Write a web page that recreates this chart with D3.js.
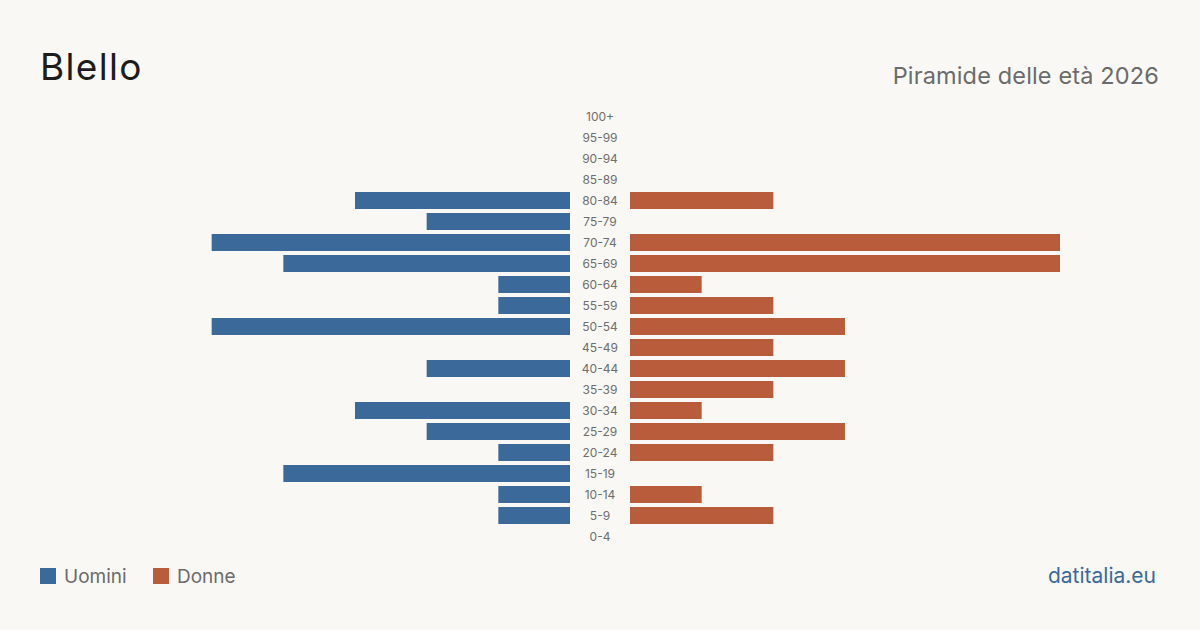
<!DOCTYPE html>
<html><head><meta charset="utf-8">
<script src="https://cdn.jsdelivr.net/npm/d3@7"></script>
<style>
body{margin:0;background:#f9f8f4;}
svg{display:block;font-family:Inter,"Noto Sans",sans-serif;}
</style></head>
<body><svg id="chart" width="1200" height="630"></svg>
<script>
/* ----- data ------------------------------------------------- */
const ageGroups = ['100+','95-99','90-94','85-89','80-84','75-79','70-74','65-69','60-64',
                   '55-59','50-54','45-49','40-44','35-39','30-34','25-29','20-24','15-19',
                   '10-14','5-9','0-4'];
const men   = [0,0,0,0,3,2,5,4,1,1,5,0,2,0,3,2,1,4,1,1,0];
const women = [0,0,0,0,2,0,6,6,1,2,3,2,3,2,1,3,2,0,1,2,0];
const legendItems = [{k:'Uomini',c:'#3b6a9a'},{k:'Donne',c:'#b95c3c'}];

/* ----- setup ------------------------------------------------ */
const svg = d3.select('#chart');
svg.append('rect').attr('width',1200).attr('height',630).attr('fill','#f9f8f4');

const maxV = d3.max([...men,...women]);
const len  = d3.scaleLinear().domain([0,maxV]).range([0,430]);
const y    = d3.scaleBand().domain(ageGroups).range([106,547]).paddingInner(4/21).paddingOuter(2/21);

const leftEdge = 570, rightEdge = 630;

/* bars */
svg.append('g').selectAll('rect').data(ageGroups.map((a,i)=>({a,v:men[i]})).filter(d=>d.v>0))
  .join('rect')
  .attr('x',d=>leftEdge-len(d.v)).attr('y',d=>y(d.a))
  .attr('width',d=>len(d.v)).attr('height',y.bandwidth())
  .attr('fill',legendItems[0].c);

svg.append('g').selectAll('rect').data(ageGroups.map((a,i)=>({a,v:women[i]})).filter(d=>d.v>0))
  .join('rect')
  .attr('x',rightEdge).attr('y',d=>y(d.a))
  .attr('width',d=>len(d.v)).attr('height',y.bandwidth())
  .attr('fill',legendItems[1].c);

/* age labels */
svg.append('g').selectAll('text').data(ageGroups).join('text')
  .attr('x',600).attr('y',d=>y(d)+y.bandwidth()/2)
  .attr('dy','0.35em').attr('text-anchor','middle')
  .style('font-size','12px').style('fill','#6e6e6e')
  .text(d=>d);

/* titles */
svg.append('text').attr('x',40).attr('y',80)
  .style('font-size','37px').style('letter-spacing','1.3px')
  .style('fill','#1c1c1c').text('Blello');
svg.append('text').attr('x',1159).attr('y',84).attr('text-anchor','end')
  .style('font-size','23.5px').style('letter-spacing','0.15px')
  .style('fill','#6b6b6b').text('Piramide delle età 2026');

/* legend */
const lg = svg.append('g').selectAll('g').data(legendItems).join('g')
  .attr('transform',(d,i)=>`translate(${40+i*113},568)`);
lg.append('rect').attr('width',16).attr('height',16).attr('fill',d=>d.c);
lg.append('text').attr('x',24).attr('y',15)
  .style('font-size','19px').style('fill','#6b6b6b').text(d=>d.k);

svg.append('text').attr('x',1156).attr('y',583).attr('text-anchor','end')
  .style('font-size','21px').style('fill','#3b6a9a').text('datitalia.eu');
</script></body></html>
